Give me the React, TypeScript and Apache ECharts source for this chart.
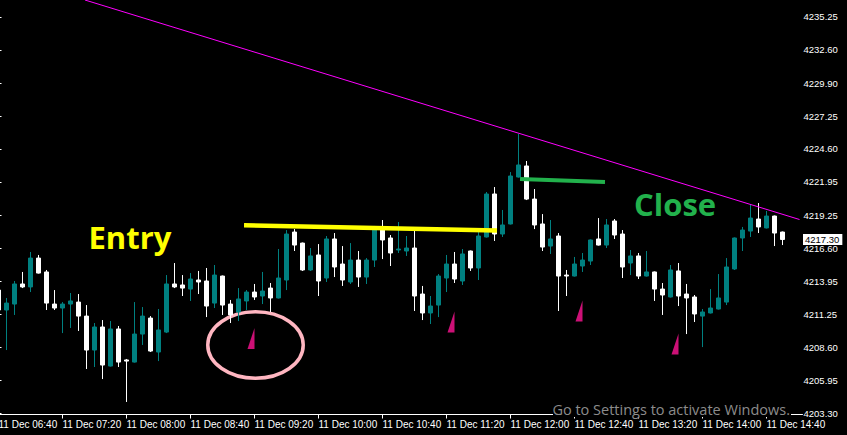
import React, { useEffect, useRef } from "react";
import * as echarts from "echarts";

// ---- Data (M5 bars, 11 Dec) ----
const pad = (n: number) => (n < 10 ? "0" + n : "" + n);
const barTimes: string[] = Array.from({ length: 101 }, (_, i) => {
  const m = 6 * 60 + 40 + 5 * i;
  return `11 Dec ${pad(Math.floor(m / 60))}:${pad(m % 60)}`;
});

const xTickLabels: string[] = [
  "11 Dec 06:40", "11 Dec 07:20", "11 Dec 08:00", "11 Dec 08:40", "11 Dec 09:20",
  "11 Dec 10:00", "11 Dec 10:40", "11 Dec 11:20", "11 Dec 12:00", "11 Dec 12:40",
  "11 Dec 13:20", "11 Dec 14:00", "11 Dec 14:40",
];

const yTickLabels: number[] = [
  4203.3, 4205.95, 4208.6, 4211.25, 4213.95, 4216.6, 4219.25,
  4221.95, 4224.6, 4227.25, 4229.9, 4232.6, 4235.25,
];

const opens: number[] = [
  4213.22, 4211.61, 4212.09, 4213.71, 4213.47, 4215.80, 4214.68, 4212.09, 4211.77, 4212.09,
  4212.25, 4211.12, 4208.38, 4210.24, 4207.09, 4210.08, 4207.58, 4207.41, 4209.67, 4210.96,
  4208.22, 4209.83, 4213.71, 4213.63, 4213.30, 4214.03, 4213.95, 4212.17, 4214.35, 4212.09,
  4211.45, 4212.34, 4213.06, 4212.74, 4213.38, 4212.58, 4214.03, 4217.90, 4217.01, 4214.84,
  4216.05, 4214.19, 4217.34, 4215.32, 4213.87, 4215.64, 4214.27, 4215.64, 4218.14, 4217.42,
  4216.45, 4216.37, 4216.61, 4212.90, 4211.37, 4212.01, 4214.19, 4215.32, 4213.95, 4216.37,
  4215.00, 4217.50, 4220.97, 4217.74, 4218.55, 4222.34, 4223.23, 4220.56, 4218.55, 4216.77,
  4217.58, 4214.43, 4214.35, 4215.16, 4215.56, 4217.34, 4216.85, 4218.79, 4217.74, 4215.40,
  4215.97, 4214.35, 4214.68, 4213.30, 4212.66, 4214.76, 4212.90, 4212.66, 4211.12, 4211.37,
  4211.69, 4212.25, 4214.92, 4217.42, 4217.98, 4218.95, 4218.23, 4219.19, 4217.90,
];

const highs: number[] = [
  4213.63, 4212.58, 4213.95, 4214.68, 4216.29, 4216.05, 4214.84, 4213.22, 4212.25, 4212.98,
  4212.90, 4212.01, 4210.56, 4210.80, 4210.72, 4210.32, 4207.66, 4212.25, 4211.85, 4211.12,
  4211.69, 4214.43, 4215.40, 4214.43, 4214.59, 4214.76, 4215.00, 4215.24, 4214.39, 4212.42,
  4213.38, 4213.22, 4213.71, 4214.68, 4213.79, 4216.53, 4218.06, 4218.14, 4217.05, 4216.61,
  4216.93, 4217.58, 4217.82, 4216.77, 4217.01, 4216.37, 4215.80, 4218.39, 4218.87, 4217.66,
  4218.71, 4217.58, 4218.06, 4213.55, 4212.74, 4214.51, 4216.05, 4216.29, 4216.53, 4216.41,
  4217.90, 4221.13, 4221.53, 4219.68, 4222.74, 4225.81, 4223.63, 4221.37, 4219.35, 4218.87,
  4217.82, 4214.84, 4215.89, 4216.21, 4217.30, 4219.03, 4218.95, 4218.95, 4218.06, 4216.45,
  4216.21, 4216.37, 4214.72, 4213.79, 4215.24, 4215.40, 4213.71, 4212.82, 4211.69, 4213.30,
  4214.51, 4215.80, 4217.46, 4218.31, 4220.08, 4220.24, 4219.60, 4219.23, 4217.94,
];

const lows: number[] = [
  4211.21, 4208.38, 4211.21, 4213.38, 4213.06, 4214.55, 4211.61, 4211.61, 4209.75, 4210.16,
  4209.92, 4206.85, 4207.01, 4206.04, 4207.05, 4207.01, 4204.19, 4207.37, 4208.79, 4208.22,
  4207.49, 4209.75, 4213.38, 4212.74, 4212.34, 4212.90, 4211.04, 4211.77, 4211.21, 4210.56,
  4210.72, 4211.61, 4212.42, 4212.09, 4211.45, 4212.54, 4213.22, 4216.37, 4214.76, 4214.76,
  4212.74, 4213.87, 4214.27, 4213.55, 4213.71, 4213.47, 4213.71, 4215.08, 4215.72, 4215.16,
  4216.21, 4215.97, 4211.53, 4210.80, 4210.48, 4211.04, 4213.06, 4213.79, 4213.63, 4214.76,
  4214.03, 4217.46, 4217.18, 4217.50, 4218.51, 4222.30, 4220.48, 4218.14, 4216.37, 4216.13,
  4211.53, 4212.74, 4214.31, 4214.68, 4215.24, 4216.81, 4216.61, 4217.34, 4214.19, 4214.43,
  4214.11, 4214.31, 4212.34, 4211.21, 4212.62, 4211.93, 4209.67, 4210.64, 4208.62, 4211.33,
  4211.65, 4212.01, 4214.84, 4216.37, 4217.50, 4217.82, 4218.19, 4216.77, 4216.85,
];

const closes: number[] = [
  4211.61, 4212.17, 4213.71, 4213.47, 4215.80, 4214.59, 4212.17, 4211.77, 4212.09, 4212.34,
  4211.12, 4208.38, 4210.24, 4207.17, 4210.08, 4207.41, 4207.49, 4209.67, 4211.12, 4208.30,
  4210.00, 4213.71, 4213.47, 4213.38, 4214.11, 4213.87, 4211.93, 4214.43, 4212.01, 4211.21,
  4212.50, 4213.06, 4212.66, 4213.14, 4212.58, 4214.19, 4217.74, 4216.85, 4214.84, 4215.97,
  4213.95, 4217.34, 4215.08, 4214.03, 4215.64, 4214.27, 4215.64, 4218.14, 4217.26, 4216.21,
  4216.53, 4216.61, 4212.74, 4211.37, 4211.93, 4214.35, 4215.32, 4214.11, 4216.13, 4215.00,
  4217.58, 4220.97, 4217.74, 4218.47, 4222.42, 4223.31, 4220.56, 4218.47, 4216.69, 4217.34,
  4214.35, 4214.35, 4215.32, 4215.64, 4217.26, 4216.85, 4218.47, 4217.66, 4215.08, 4215.97,
  4214.35, 4214.68, 4213.30, 4212.82, 4214.84, 4212.74, 4212.58, 4211.29, 4211.45, 4211.77,
  4212.58, 4215.08, 4217.42, 4218.06, 4219.03, 4218.31, 4219.19, 4217.82, 4217.30,
];

const lastPrice = 4217.3;

// Chart objects (bar position, price)
const trendLine: number[][] = [[10.81, 4236.62], [100.13, 4218.91]];
const entryLine: number[][] = [[30.69, 4218.44], [62.31, 4218.02]];
const closeLine: number[][] = [[65.19, 4222.18], [75.81, 4221.94]];
const arrowMarks: number[][] = [[32, 4209.31], [57, 4210.64], [73, 4211.53], [85, 4208.87]];
const ellipseBox: number[][] = [[25.94, 4211.61, 38.31, 4205.96]];
const labelTexts: string[] = ["Entry", "Close"];
const labelPoints: number[][] = [[11.25, 4217.46], [79.44, 4220.15]];
const labelColors: string[] = ["#FFFF00", "#22B14C"];

const FONT = "Liberation Sans";

export default function App() {
  const ref = useRef<HTMLDivElement>(null);

  useEffect(() => {
    if (!ref.current) return;
    const chart = echarts.init(ref.current, null, { renderer: "svg" });
    const candles = opens.map((o, i) => [o, closes[i], lows[i], highs[i]]);
    const showTick = (_i: number, v: string) => xTickLabels.includes(v);

    const option: any = {
      animation: false,
      backgroundColor: "#000000",
      grid: {
        left: -5.5,
        top: 0,
        width: 808,
        height: 414.5,
        containLabel: false,
        outerBoundsMode: "none",
      },
      xAxis: [
        {
          type: "category",
          data: barTimes,
          boundaryGap: true,
          axisLine: { show: true, lineStyle: { color: "#ffffff", width: 1 } },
          axisTick: { show: true, interval: showTick, alignWithLabel: true, length: 4, lineStyle: { color: "#ffffff" } },
          axisLabel: {
            show: true,
            interval: showTick,
            align: "left",
            margin: 5,
            color: "#ffffff",
            fontSize: 10,
            fontFamily: FONT,
            hideOverlap: false,
          },
          splitLine: { show: false },
        },
        { type: "value", show: false, min: -0.5, max: 100.5 },
      ],
      yAxis: {
        type: "value",
        position: "right",
        offset: -3,
        min: 4203.18,
        max: 4236.62,
        axisLine: { show: true, lineStyle: { color: "#ffffff", width: 1 } },
        axisTick: { show: true, length: 3, customValues: yTickLabels, lineStyle: { color: "#ffffff" } },
        axisLabel: {
          show: true,
          customValues: yTickLabels,
          margin: 4,
          color: "#ffffff",
          fontSize: 9.5,
          fontFamily: FONT,
          formatter: (v: number) => v.toFixed(2),
        },
        splitLine: { show: false },
      },
      series: [
        {
          type: "candlestick",
          data: candles,
          barWidth: 4,
          itemStyle: {
            color: "#008080",
            color0: "#FFFFFF",
            borderColor: "#008080",
            borderColor0: "#FFFFFF",
            borderWidth: 1,
          },
          markLine: {
            silent: true,
            symbol: ["none", "none"],
            lineStyle: { color: "rgba(0,0,0,0)", width: 1, type: "solid" },
            data: [{ yAxis: lastPrice }],
            label: {
              show: true,
              position: "end",
              distance: 0.5,
              formatter: lastPrice.toFixed(2),
              color: "#000000",
              opacity: 1,
              backgroundColor: "#ffffff",
              padding: [1, 3, 0, 2],
              lineHeight: 10,
              fontSize: 9.5,
              fontFamily: FONT,
            },
          },
        },
        {
          type: "line",
          xAxisIndex: 1,
          data: trendLine,
          symbol: "none",
          lineStyle: { color: "#FF00FF", width: 1 },
          silent: true,
        },
        {
          type: "line",
          xAxisIndex: 1,
          data: entryLine,
          symbol: "none",
          lineStyle: { color: "#FFFF00", width: 4.5 },
          silent: true,
        },
        {
          type: "line",
          xAxisIndex: 1,
          data: closeLine,
          symbol: "none",
          lineStyle: { color: "#22B14C", width: 4 },
          silent: true,
        },
        {
          type: "scatter",
          xAxisIndex: 1,
          data: arrowMarks,
          symbol: "path://M7 0 L7 21 L0 21 Z",
          symbolSize: [7, 21],
          symbolOffset: [-3.5, 0],
          itemStyle: { color: "#FF1493" },
          silent: true,
        },
        {
          type: "custom",
          xAxisIndex: 1,
          data: ellipseBox,
          silent: true,
          renderItem: (_p: any, api: any) => {
            const a = api.coord([api.value(0), api.value(1)]);
            const b = api.coord([api.value(2), api.value(3)]);
            const lw = 3.5;
            return {
              type: "ellipse",
              shape: {
                cx: (a[0] + b[0]) / 2,
                cy: (a[1] + b[1]) / 2,
                rx: Math.abs(b[0] - a[0]) / 2 - lw / 2,
                ry: Math.abs(b[1] - a[1]) / 2 - lw / 2,
              },
              style: { fill: "none", stroke: "#FFB6C1", lineWidth: lw },
            };
          },
        },
        {
          type: "custom",
          xAxisIndex: 1,
          data: labelPoints,
          silent: true,
          renderItem: (p: any, api: any) => {
            const pt = api.coord([api.value(0), api.value(1)]);
            return {
              type: "text",
              x: pt[0],
              y: pt[1],
              style: {
                text: labelTexts[p.dataIndex],
                fill: labelColors[p.dataIndex],
                fontSize: 31,
                fontWeight: "bold",
                fontFamily: "Open Sans",
                align: "left",
                verticalAlign: "middle",
              },
            };
          },
        },
      ],
      graphic: [
        {
          type: "rect",
          z: 100,
          shape: { x: 553, y: 399, width: 238, height: 18 },
          style: { fill: "#000000" },
        },
        {
          type: "text",
          z: 101,
          x: 790,
          y: 409,
          style: {
            text: "Go to Settings to activate Windows.",
            fill: "#8c8c8c",
            font: '14.5px "Open Sans"',
            textAlign: "right",
            textVerticalAlign: "middle",
            align: "right",
            verticalAlign: "middle",
          },
        },
      ],
    };

    chart.setOption(option);
    return () => chart.dispose();
  }, []);

  return (
    <div
      ref={ref}
      style={{ position: "fixed", left: 0, top: 0, width: 847, height: 435, background: "#000" }}
    />
  );
}
